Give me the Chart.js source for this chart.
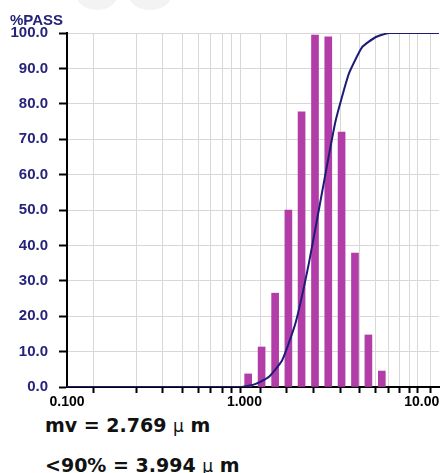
<!DOCTYPE html>
<html>
<head>
<meta charset="utf-8">
<script src="https://cdn.jsdelivr.net/npm/chart.js@4/dist/chart.umd.min.js"></script>
<style>
  html, body { margin: 0; padding: 0; background: #fff; }
  body { width: 440px; height: 473px; position: relative; overflow: hidden; }
  #wrap { position: absolute; left: 0; top: 0; width: 440px; height: 410px; }
  .blob { position: absolute; background: #f3f3f3; border-radius: 50%; }
  #ytitle { position: absolute; left: 10px; top: 11px; font: bold 15px "Liberation Sans", Arial, sans-serif; color: #25237a; line-height: 17px; }
  .note { position: absolute; left: 45px; font: bold 19px "DejaVu Sans", Verdana, sans-serif; color: #111; line-height: 19px; white-space: pre; }
  .mu { font-weight: normal; font-size: 17px; }
</style>
</head>
<body>
<div class="blob" style="left:76px;top:-22px;width:42px;height:32px;"></div>
<div class="blob" style="left:128px;top:-22px;width:44px;height:32px;"></div>
<div id="wrap"><canvas id="c"></canvas></div>
<div id="ytitle">%PASS</div>
<div class="note" style="top:416px;">mv = 2.769 <span class="mu">µ</span> m</div>
<div class="note" style="top:456px;">&lt;90% = 3.994 <span class="mu">µ</span> m</div>
<script>
// Particle size (µm) at bar centres and frequency bar heights
const barSizes   = [1.05, 1.25, 1.49, 1.77, 2.10, 2.50, 2.97, 3.53, 4.20, 5.00, 5.95];
const barValues  = [3.7, 11.3, 26.5, 50.0, 77.7, 99.4, 98.9, 72.0, 37.8, 14.7, 4.5];
// Cumulative %PASS curve
const curveSizes  = [0.10, 0.97, 1.15, 1.37, 1.63, 1.94, 2.31, 2.74, 3.26, 3.88, 4.61, 5.48, 6.52, 12.5];
const curveValues = [0.0, 0.0, 0.8, 2.8, 7.5, 18.0, 35.0, 55.0, 75.0, 88.5, 96.0, 98.8, 100.0, 100.0];
// Axis labels
const xLabelValues = [0.1, 1, 10];
const xLabelTexts  = ['0.100', '1.000', '10.00'];
const yMin = 0, yMax = 100, yStep = 10;
const xMin = 0.1, xMax = 12.5;

const barData = barSizes.map((s, i) => ({ x: s, y: barValues[i] }));
const curveData = curveSizes.map((s, i) => ({ x: s, y: curveValues[i] }));

new Chart(document.getElementById('c'), {
  type: 'bar',
  data: {
    datasets: [
      {
        type: 'line',
        data: curveData,
        borderColor: '#1e1b78',
        borderWidth: 2,
        pointRadius: 0,
        tension: 0.15,
        fill: false,
        order: 0
      },
      {
        type: 'bar',
        data: barData,
        backgroundColor: '#b23ca8',
        barThickness: 7,
        order: 1
      }
    ]
  },
  options: {
    responsive: true,
    maintainAspectRatio: false,
    animation: false,
    layout: { padding: { left: 10, right: 0, top: 33, bottom: 0 } },
    plugins: { legend: { display: false }, tooltip: { enabled: false } },
    scales: {
      x: {
        type: 'logarithmic',
        min: xMin,
        max: xMax,
        afterFit: s => { s.height = 23; },
        border: { color: '#000', width: 2 },
        grid: { color: '#d8d8d8', lineWidth: 1, tickColor: '#000', tickLength: 6, tickWidth: 2 },
        ticks: {
          autoSkip: false,
          maxRotation: 0,
          padding: 1,
          color: '#000',
          font: { family: '"Liberation Sans", Arial, sans-serif', size: 14, weight: 'bold' },
          callback: (v) => {
            const k = xLabelValues.findIndex(t => Math.abs(t - v) < 1e-9);
            return k >= 0 ? xLabelTexts[k] : '';
          }
        }
      },
      y: {
        min: yMin,
        max: yMax,
        afterFit: s => { s.width = 57; },
        border: { color: '#000', width: 2 },
        grid: { color: '#d8d8d8', lineWidth: 1, tickColor: '#000', tickLength: 8, tickWidth: 2 },
        ticks: {
          stepSize: yStep,
          padding: 11,
          color: '#25237a',
          font: { family: '"Liberation Sans", Arial, sans-serif', size: 15, weight: 'bold' },
          callback: v => Number(v).toFixed(1)
        }
      }
    }
  }
});
</script>
</body>
</html>
